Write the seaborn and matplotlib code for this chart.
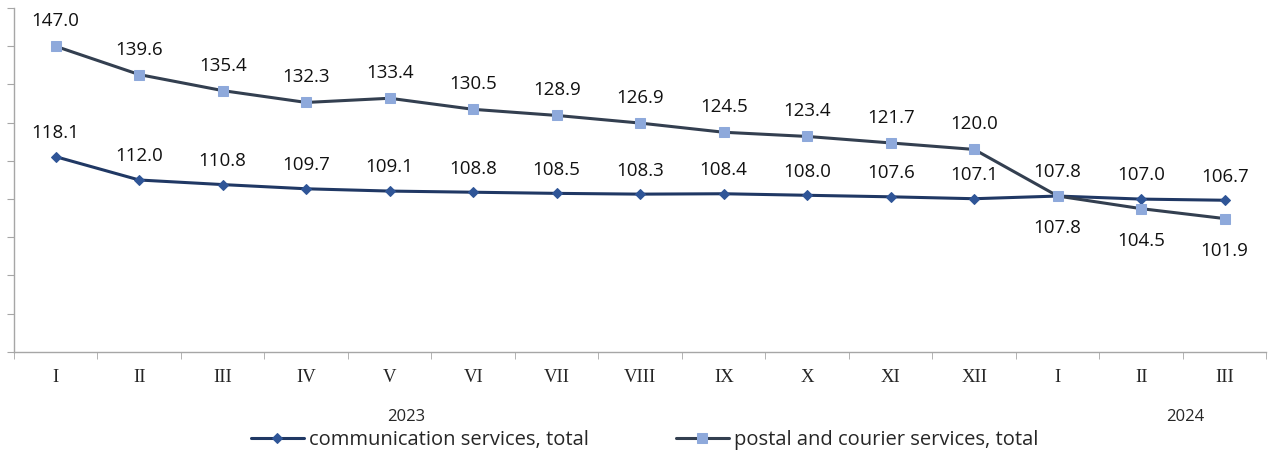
import numpy as np
import pandas as pd
import matplotlib
matplotlib.use('Agg')
import matplotlib.pyplot as plt
import seaborn as sns

# Data
months = ['I', 'II', 'III', 'IV', 'V', 'VI', 'VII', 'VIII', 'IX', 'X', 'XI', 'XII', 'I', 'II', 'III']
communication = [118.1, 112.0, 110.8, 109.7, 109.1, 108.8, 108.5, 108.3, 108.4, 108.0, 107.6, 107.1, 107.8, 107.0, 106.7]
postal = [147.0, 139.6, 135.4, 132.3, 133.4, 130.5, 128.9, 126.9, 124.5, 123.4, 121.7, 120.0, 107.8, 104.5, 101.9]
years = ['2023', '2024']

sns.set_style('white')
plt.rcParams['font.family'] = ['Open Sans', 'DejaVu Sans']

pos = np.arange(len(months))
df = pd.DataFrame({'pos': pos, 'comm': communication, 'post': postal})

fig = plt.figure(figsize=(12.69, 4.5), dpi=100)
ax = fig.add_axes([0.011, 0.218, 0.987, 0.764])

sns.lineplot(data=df, x='pos', y='comm', ax=ax, color='#203864', lw=2.2,
             marker='D', markersize=5.5, markerfacecolor='#2F5597', markeredgecolor='#2F5597',
             label='communication services, total')
sns.lineplot(data=df, x='pos', y='post', ax=ax, color='#333F50', lw=2.2,
             marker='s', markersize=7, markerfacecolor='#8EA9DB', markeredgecolor='#8EA9DB',
             label='postal and courier services, total')

# data labels
for i, v in enumerate(communication):
    ax.annotate(f'{v:.1f}', (i, v), xytext=(0, 17), textcoords='offset points',
                ha='center', va='center', fontsize=13.5, color='#111111')
for i, v in enumerate(postal):
    off = 18 if i < 12 else -23
    ax.annotate(f'{v:.1f}', (i, v), xytext=(0, off), textcoords='offset points',
                ha='center', va='center', fontsize=13.5, color='#111111')

ax.set_xlim(-0.5, len(months) - 0.5)
ax.set_ylim(67, 157)
ax.set_yticks(np.arange(67, 158, 10))
ax.set_yticklabels([])
ax.set_xticks(pos)
ax.set_xticklabels(months, fontsize=13.5, family='Liberation Serif')
ax.set_xticks(np.arange(-0.5, len(months), 1), minor=True)
ax.tick_params(axis='x', which='major', length=0, pad=12)
ax.tick_params(axis='x', which='minor', length=5, color='#A6A6A6', direction='out', bottom=True)
ax.tick_params(axis='y', length=5, color='#A6A6A6', direction='out', left=True)
ax.set_xlabel('')
ax.set_ylabel('')

sns.despine(ax=ax)
for s in ['left', 'bottom']:
    ax.spines[s].set_color('#A6A6A6')
    ax.spines[s].set_linewidth(1)

# year labels
ax.text(4.2, -0.19, years[0], transform=ax.get_xaxis_transform(), ha='center', va='center', fontsize=12)
ax.text(13.53, -0.19, years[1], transform=ax.get_xaxis_transform(), ha='center', va='center', fontsize=12)

ax.legend(loc='center', bbox_to_anchor=(0.5035, -0.255), ncol=2, frameon=False, fontsize=14.5,
          handlelength=2.65, handletextpad=0.25, columnspacing=4.3, borderaxespad=0)

fig.savefig('out.png', dpi=100)
